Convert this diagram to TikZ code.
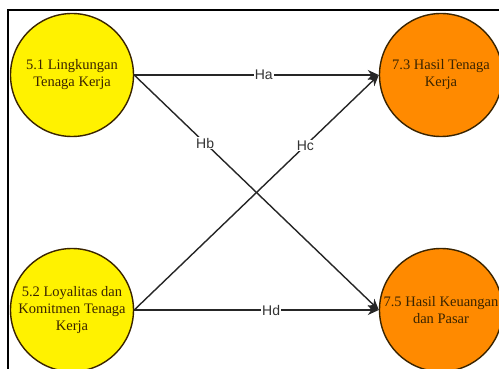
\documentclass[tikz,border=0pt]{standalone}
\usepackage{fontspec}
\setmainfont{Liberation Serif}
\newfontfamily\labelfont{Liberation Sans}
\usetikzlibrary{arrows.meta}
\definecolor{cyel}{HTML}{FFF200}
\definecolor{corg}{HTML}{FF8A00}
\definecolor{ctxt}{HTML}{3A2400}
\definecolor{clab}{HTML}{333333}
\begin{document}
\begin{tikzpicture}[x=1pt,y=-1pt,
  var/.style={circle,draw=ctxt,line width=1.4pt,minimum size=123pt,inner sep=0pt,
    align=center,font=\fontsize{14.5}{17}\selectfont,text=ctxt},
  indep/.style={var,fill=cyel},
  dep/.style={var,fill=corg},
  link/.style={line width=1.4pt,draw=black!85,-{Stealth[length=11pt,width=10pt]}},
  hlab/.style={fill=white,inner sep=1pt,font=\labelfont\fontsize{14}{15}\selectfont,text=clab}]
\useasboundingbox (0,0) rectangle (499,369);
\fill[white] (0,0) rectangle (499,369);
\clip (0,0) rectangle (499,369);
\draw[line width=2.2pt] (8,380) -- (8,10) -- (510,10);
\node[indep] (a) at (72,75) {5.1 Lingkungan\\Tenaga Kerja};
\node[indep] (b) at (72,310) {5.2 Loyalitas dan\\Komitmen Tenaga\\Kerja};
\node[dep] (c) at (441,75) {7.3 Hasil Tenaga\\Kerja};
\node[dep] (d) at (441,310) {7.5 Hasil Keuangan\\dan Pasar};
\draw[link] (a.east) -- node[hlab,pos=0.53] {Ha} (c.west);
\draw[link] (a.east) -- node[hlab,pos=0.29] {Hb} (d.west);
\draw[link] (b.east) -- node[hlab,pos=0.70] {Hc} (c.west);
\draw[link] (b.east) -- node[hlab,pos=0.56] {Hd} (d.west);
\end{tikzpicture}
\end{document}
